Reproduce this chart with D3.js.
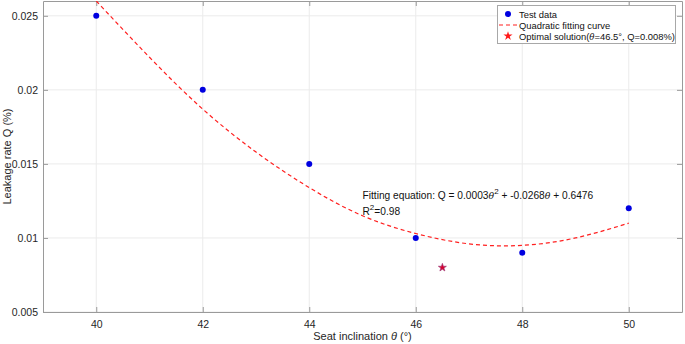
<!DOCTYPE html>
<html>
<head>
<meta charset="utf-8">
<script src="https://cdn.jsdelivr.net/npm/d3@7"></script>
<style>
  body { margin: 0; background: #fff; }
  text { font-family: "Liberation Sans", Arial, sans-serif; }
</style>
</head>
<body>
<div id="container"></div>
<script>
// test points
const thetaTest = [40, 42, 44, 46, 48, 50];
const leakTest = [0.025, 0.020, 0.015, 0.010, 0.009, 0.012];
// fitted curve
const thetaFit = [40, 41, 42, 43, 44, 45, 46, 47, 48, 49, 50];
const leakFit = [0.0260, 0.0222, 0.0187, 0.0158, 0.0134, 0.0115, 0.0103, 0.0096, 0.0095, 0.0100, 0.0110];
// optimal solution
const optTheta = [46.5];
const optLeak = [0.008];

const xTicks = [40, 42, 44, 46, 48, 50];
const yTicks = [0.005, 0.01, 0.015, 0.02, 0.025];
const yTickLabels = ["0.005", "0.01", "0.015", "0.02", "0.025"];
const legendLabels = ["Test data", "Quadratic fitting curve", "Optimal solution"];

const width = 685, height = 344;
const plotL = 43, plotR = 682, plotT = 1, plotB = 312;

const svg = d3.select("#container").append("svg")
	.attr("width", width)
	.attr("height", height);

const x = d3.scaleLinear().domain([39, 51]).range([plotL, plotR]);
const y = d3.scaleLinear().domain([0.005, 0.026]).range([plotB, plotT]);

// grid
svg.append("g").selectAll("line").data(xTicks).enter().append("line")
	.attr("x1", d => x(d)).attr("x2", d => x(d))
	.attr("y1", plotT).attr("y2", plotB)
	.style("stroke", "#ebebeb");
svg.append("g").selectAll("line").data(yTicks).enter().append("line")
	.attr("x1", plotL).attr("x2", plotR)
	.attr("y1", d => y(d)).attr("y2", d => y(d))
	.style("stroke", "#ebebeb");

// axes
const axisColor = "#9a9a9a";
const xAxis = svg.append("g").attr("transform", `translate(0,${plotB})`)
	.call(d3.axisBottom(x).tickValues(xTicks).tickSizeInner(-5).tickSizeOuter(0).tickPadding(9));
const yAxis = svg.append("g").attr("transform", `translate(${plotL},0)`)
	.call(d3.axisLeft(y).tickValues(yTicks).tickFormat((d, i) => yTickLabels[i]).tickSizeInner(-5).tickSizeOuter(0).tickPadding(5));
const xTop = svg.append("g").attr("transform", `translate(0,${plotT})`)
	.call(d3.axisTop(x).tickValues(xTicks).tickSizeInner(-5).tickSizeOuter(0).tickFormat(""));
const yRight = svg.append("g").attr("transform", `translate(${plotR},0)`)
	.call(d3.axisRight(y).tickValues(yTicks).tickSizeInner(-5).tickSizeOuter(0).tickFormat(""));

[xAxis, yAxis, xTop, yRight].forEach(g => {
	g.selectAll("path, line").style("stroke", axisColor);
	g.selectAll("text").style("font-size", "10.5px").style("fill", "#262626")
		.style("font-family", '"Liberation Sans", Arial, sans-serif');
});

// axis labels
svg.append("text")
	.attr("x", (plotL + plotR) / 2).attr("y", 340)
	.attr("text-anchor", "middle")
	.style("font-size", "11px").style("fill", "#262626")
	.call(t => {
		t.append("tspan").text("Seat inclination ");
		t.append("tspan").style("font-style", "italic").text("θ");
		t.append("tspan").text(" (°)");
	});

svg.append("text")
	.attr("transform", `translate(11,${(plotT + plotB) / 2}) rotate(-90)`)
	.attr("text-anchor", "middle")
	.style("font-size", "11px").style("fill", "#262626")
	.text("Leakage rate Q (%)");

// clip
svg.append("clipPath").attr("id", "plotclip")
	.append("rect").attr("x", plotL).attr("y", plotT).attr("width", plotR - plotL).attr("height", plotB - plotT);

// fitted curve
const lineBuilder = d3.line()
	.x(d => x(d[0]))
	.y(d => y(d[1]))
	.curve(d3.curveNatural);

svg.append("path")
	.attr("clip-path", "url(#plotclip)")
	.attr("d", lineBuilder(thetaFit.map((t, i) => [t, leakFit[i]])))
	.style("fill", "none")
	.style("stroke", "#ff2020")
	.style("stroke-width", 1.2)
	.style("stroke-dasharray", "4,3");

// test data
svg.append("g").selectAll("circle").data(thetaTest).enter().append("circle")
	.attr("cx", d => x(d))
	.attr("cy", (d, i) => y(leakTest[i]))
	.attr("r", 3)
	.style("fill", "#0000e0");

// optimal star
const star = d3.symbol().type(d3.symbolStar).size(20);
svg.append("g").selectAll("path").data(optTheta).enter().append("path")
	.attr("d", star)
	.attr("transform", (d, i) => `translate(${x(d)},${y(optLeak[i])})`)
	.style("fill", "#d8002c")
	.style("stroke", "#a03c78")
	.style("stroke-width", 0.7);

// annotation
const ann = svg.append("g").style("font-size", "10.2px").style("fill", "#111");
ann.append("text").attr("x", x(45)).attr("y", 199)
	.call(t => {
		t.append("tspan").text("Fitting equation: Q = 0.0003");
		t.append("tspan").style("font-style", "italic").style("font-family", '"DejaVu Serif", serif').style("font-size", "9.3px").text("θ");
		t.append("tspan").attr("dy", -5).style("font-size", "8px").text("2");
		t.append("tspan").attr("dy", 5).text(" + -0.0268");
		t.append("tspan").style("font-style", "italic").style("font-family", '"DejaVu Serif", serif').style("font-size", "9.3px").text("θ");
		t.append("tspan").text(" + 0.6476");
	});
ann.append("text").attr("x", x(45)).attr("y", 215)
	.call(t => {
		t.append("tspan").text("R");
		t.append("tspan").attr("dy", -5).style("font-size", "8px").text("2");
		t.append("tspan").attr("dy", 5).text("=0.98");
	});

// legend
const lg = svg.append("g");
lg.append("rect")
	.attr("x", 497.5).attr("y", 5.5).attr("width", 178).attr("height", 38)
	.style("fill", "#fff").style("stroke", "#a8a8a8");
const rowY = [14, 25, 36];
lg.append("circle").attr("cx", 508).attr("cy", rowY[0]).attr("r", 3).style("fill", "#0000e0");
lg.append("line").attr("x1", 499).attr("x2", 518).attr("y1", rowY[1]).attr("y2", rowY[1])
	.style("stroke", "#ff2020").style("stroke-width", 1.2).style("stroke-dasharray", "4,3");
lg.append("path").attr("d", d3.symbol().type(d3.symbolStar).size(26)).attr("transform", `translate(508,${rowY[2]})`)
	.style("fill", "#ff1a1a");
lg.selectAll("text.lbl").data(legendLabels).enter().append("text")
	.attr("class", "lbl")
	.attr("x", 519).attr("y", (d, i) => rowY[i] + 3.5)
	.style("font-size", "9.4px").style("fill", "#111")
	.each(function (d, i) {
		const t = d3.select(this);
		if (i < 2) { t.text(d); return; }
		t.append("tspan").text(d + "(");
		t.append("tspan").style("font-style", "italic").style("font-family", '"DejaVu Serif", serif').style("font-size", "8.6px").text("θ");
		t.append("tspan").text("=" + optTheta[0] + "°, Q=" + optLeak[0] + "%)");
	});
</script>
</body>
</html>
